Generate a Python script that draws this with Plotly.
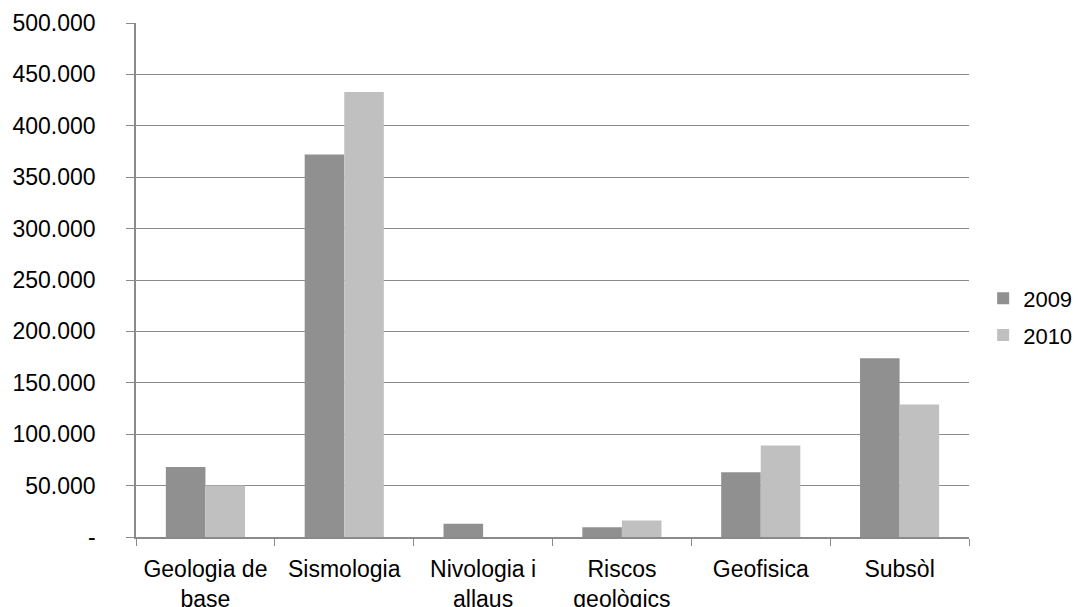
import plotly.graph_objects as go

categories = ["Geologia de<br>base", "Sismologia", "Nivologia i<br>allaus",
              "Riscos<br>geològics", "Geofisica", "Subsòl"]
values_2009 = [68000, 372000, 13000, 9500, 63000, 174000]
values_2010 = [50000, 433000, 0, 16000, 89000, 129000]
y_ticks = [0, 50000, 100000, 150000, 200000, 250000, 300000, 350000, 400000, 450000, 500000]
y_tick_labels = ["-", "50.000", "100.000", "150.000", "200.000", "250.000",
                 "300.000", "350.000", "400.000", "450.000", "500.000"]

font_family = "Liberation Sans, Arial, sans-serif"

fig = go.Figure()
fig.add_trace(go.Bar(x=categories, y=values_2009, name="2009",
                     marker=dict(color="#909090", line=dict(width=0)),
                     legendgroup="a"))
fig.add_trace(go.Bar(x=categories, y=values_2010, name="2010",
                     marker=dict(color="#c0c0c0", line=dict(width=0)),
                     legendgroup="b"))

fig.update_layout(
    width=1080, height=607,
    margin=dict(l=136, r=111, t=23, b=70, autoexpand=False),
    paper_bgcolor="white", plot_bgcolor="white",
    barmode="group", bargap=0.43, bargroupgap=0,
    font=dict(family=font_family, size=23, color="black"),
    showlegend=True,
    legend=dict(x=1.017, xref="paper", y=0.428, xanchor="left", yanchor="middle",
                tracegroupgap=5, font=dict(size=22), itemwidth=30,
                bgcolor="rgba(0,0,0,0)"),
)
fig.update_yaxes(
    range=[0, 500000], tickvals=y_ticks, ticktext=y_tick_labels,
    showgrid=True, gridcolor="#8a8a8a", gridwidth=1,
    showline=True, linecolor="#8a8a8a", linewidth=1.5,
    ticks="outside", ticklen=8, tickcolor="#8a8a8a",
    zeroline=False, ticklabelstandoff=26, automargin=False,
)
fig.update_xaxes(
    showline=True, linecolor="#8a8a8a", linewidth=2,
    ticks="outside", ticklen=7, tickcolor="#8a8a8a", tickson="boundaries",
    showgrid=False, tickangle=0, ticklabelstandoff=10, automargin=False,
)

fig.write_html("out.html")
